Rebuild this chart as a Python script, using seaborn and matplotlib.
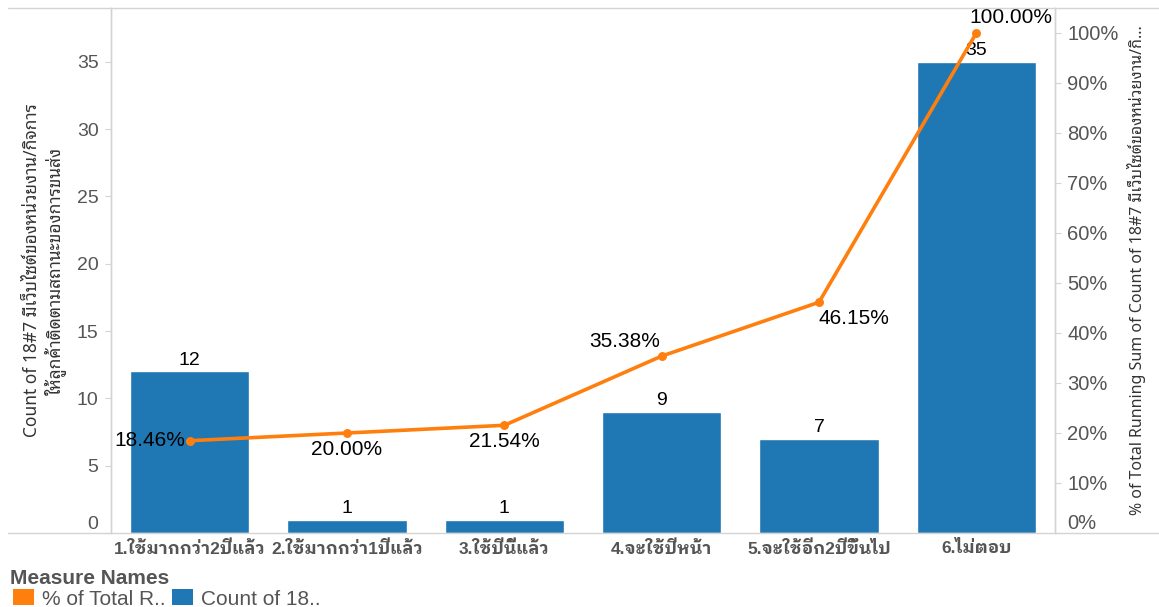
import matplotlib
matplotlib.use("Agg")
import matplotlib.pyplot as plt
from matplotlib.lines import Line2D
from matplotlib.patches import Patch
import seaborn as sns

# Survey answers: website for customers to track shipments
categories = ["1.ใช้มากกว่า2ปีแล้ว", "2.ใช้มากกว่า1ปีแล้ว", "3.ใช้ปีนี้แล้ว",
              "4.จะใช้ปีหน้า", "5.จะใช้อีก2ปีขึ้นไป", "6.ไม่ตอบ"]
counts = [12, 1, 1, 9, 7, 35]
running_pct = [18.46, 20.00, 21.54, 35.38, 46.15, 100.00]

left_ticks = [0, 5, 10, 15, 20, 25, 30, 35]
right_ticks = [0, 10, 20, 30, 40, 50, 60, 70, 80, 90, 100]

left_title = ("Count of 18#7 มีเว็บไซต์ของหน่วยงาน/กิจการ\n"
              "ให้ลูกค้าติดตามสถานะของการขนส่ง")
right_title = "% of Total Running Sum of Count of 18#7 มีเว็บไซต์ของหน่วยงาน/กิ..."
legend_title = "Measure Names"
legend_labels = ["% of Total R..", "Count of 18.."]

BLUE = "#1f77b4"
ORANGE = "#ff7f0e"
GRID = "#d4d4d4"
TICK_TXT = "#555555"

sns.set_style("white")
FONT = ["Liberation Sans", "Noto Sans Thai Looped", "DejaVu Sans"]
BOLD_FONT = ["Liberation Sans", "IBM Plex Sans Thai Looped", "DejaVu Sans"]
NARROW = ["Liberation Sans Narrow", "Noto Sans Thai Looped", "DejaVu Sans"]
plt.rcParams["font.family"] = FONT

fig = plt.figure(figsize=(11.59, 6.07), dpi=100)
ax = fig.add_axes([111 / 1159, 74 / 607, 944 / 1159, 525 / 607])

sns.barplot(x=categories, y=counts, color=BLUE, saturation=1, width=0.76,
            ax=ax, errorbar=None)
ax.bar_label(ax.containers[0], padding=2, fontsize=14, color="black")

ax2 = ax.twinx()
sns.pointplot(x=categories, y=running_pct, ax=ax2, color=ORANGE,
              markers="o", markersize=4.5, linewidth=2.6, errorbar=None)

ax.set_xlim(-0.5, 5.5)
ax.set_ylim(0, 39.0)
ax2.set_ylim(0, 105)

# line value labels, each nudged away from its point
placements = [("right", "center", (-3, 0)),
              ("center", "top", (0, -5)),
              ("center", "top", (0, -5)),
              ("right", "bottom", (-1, 4)),
              ("left", "top", (0, -5)),
              ("left", "bottom", (-5, 4))]
for i, (v, (ha, va, off)) in enumerate(zip(running_pct, placements)):
    ax2.annotate(f"{v:.2f}%", (i, v), xytext=off, textcoords="offset points",
                 ha=ha, va=va, fontsize=15, color="black", zorder=5)

# left axis
ax.set_yticks(left_ticks)
ax.set_yticklabels([str(t) for t in left_ticks])
ax.tick_params(axis="y", length=4, width=0.8, color=GRID, labelcolor=TICK_TXT,
               labelsize=14, pad=5)
ax.get_yticklabels()[0].set_va("bottom")
ax.set_ylabel(left_title, family=NARROW, fontsize=12.5, color="#333333",
              labelpad=8, linespacing=1.15)

# right axis
ax2.set_yticks(right_ticks)
ax2.set_yticklabels([f"{t}%" for t in right_ticks])
ax2.tick_params(axis="y", length=4, width=0.8, color=GRID, labelcolor=TICK_TXT,
                labelsize=14.5, pad=5)
ax2.get_yticklabels()[0].set_va("bottom")
ax2.set_ylabel(right_title, family=NARROW, fontsize=11.5, color="#333333",
               labelpad=6)

# category axis
ax.set_xlabel("")
ax.set_xticks(range(len(categories)))
ax.set_xticklabels(categories, fontweight="bold", fontsize=12.5, color=TICK_TXT,
                   family=BOLD_FONT)
ax.tick_params(axis="x", which="major", length=0, pad=5)
ax.set_xticks([i - 0.5 for i in range(len(categories) + 1)], minor=True)
ax.tick_params(axis="x", which="minor", length=7, width=0.8, color=GRID)

for a in (ax, ax2):
    for side, sp in a.spines.items():
        sp.set_color(GRID)
        sp.set_linewidth(1.0)
    a.spines["top"].set_visible(False)
    a.spines["bottom"].set_visible(False)
    a.grid(False)

# frame rules across the full width
fig.add_artist(Line2D([8 / 1159, 1], [1 - 8 / 607] * 2, color=GRID, lw=1.0,
                      transform=fig.transFigure))
fig.add_artist(Line2D([8 / 1159, 1], [74 / 607] * 2, color=GRID, lw=1.0,
                      transform=fig.transFigure))

# legend
fig.text(10 / 1159, 1 - 579 / 607, legend_title, fontsize=15, fontweight="bold",
         color=TICK_TXT, va="center", ha="left")
handles = [Patch(facecolor=ORANGE, edgecolor="none"),
           Patch(facecolor=BLUE, edgecolor="none")]
fig.legend(handles, legend_labels, loc="center left",
           bbox_to_anchor=(13 / 1159, 1 - 599 / 607), ncol=2, frameon=False,
           fontsize=15, labelcolor=TICK_TXT, handlelength=1.0, handleheight=0.8,
           handletextpad=0.4, columnspacing=0.3, borderaxespad=0, borderpad=0)

fig.savefig("out.png", dpi=100)
